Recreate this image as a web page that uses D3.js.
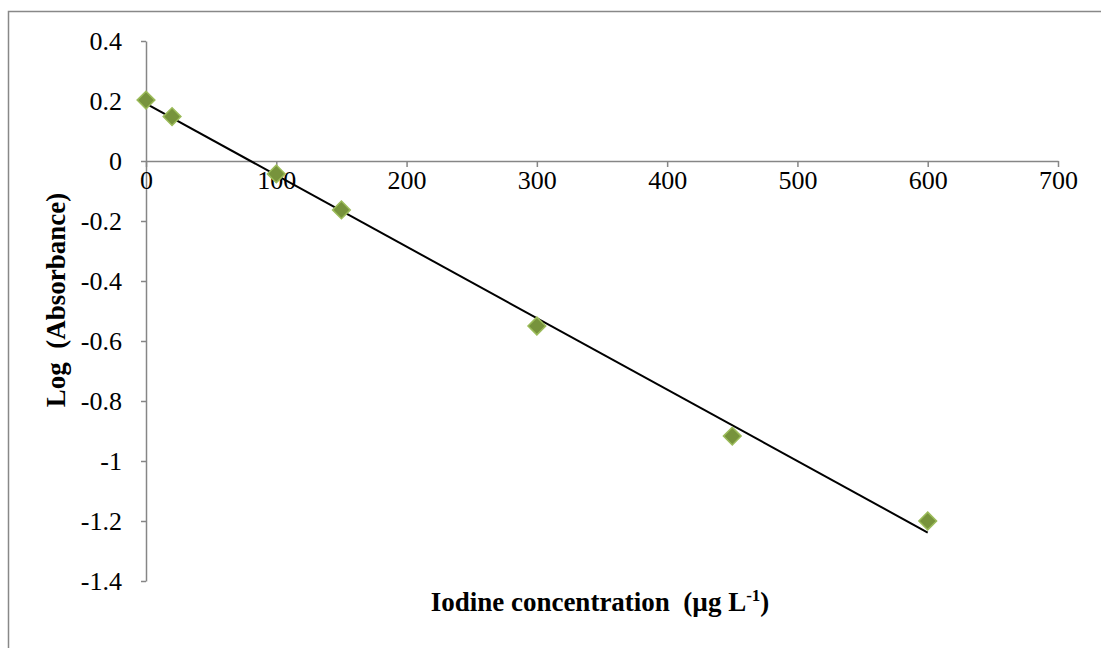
<!DOCTYPE html>
<html><head><meta charset="utf-8">
<script src="https://cdn.jsdelivr.net/npm/d3@7"></script>
<style>body{margin:0;background:#fff}svg{display:block}
svg text{font-family:"Liberation Serif","Times New Roman",serif;fill:#000}
.tick text{font-size:26px}
.title{font-size:27px;font-weight:bold}
</style>
</head><body>
<script>
const concentrations = [0, 20, 100, 150, 300, 450, 600];
const logAbsorbance = [0.203, 0.148, -0.043, -0.163, -0.55, -0.917, -1.2];
const xTicks = [0, 100, 200, 300, 400, 500, 600, 700];
const yTicks = [0.4, 0.2, 0, -0.2, -0.4, -0.6, -0.8, -1, -1.2, -1.4];

const W = 1101, H = 648;
const svg = d3.select("body").append("svg").attr("width", W).attr("height", H);

// outer frame (only top and left visible)
svg.append("rect").attr("x", 8.5).attr("y", 11.5).attr("width", 1200).attr("height", 800)
  .attr("fill", "none").attr("stroke", "#888").attr("stroke-width", 1.5);

const x = d3.scaleLinear().domain([0, 700]).range([146, 1058]);
const y = d3.scaleLinear().domain([-1.4, 0.4]).range([581, 41]);

const axisColor = "#868686";

// y axis
const yAxis = svg.append("g").attr("transform", `translate(${x(0)},0)`)
  .call(d3.axisLeft(y).tickValues(yTicks).tickSize(5).tickSizeOuter(0).tickFormat(d => String(+d.toFixed(1))));
yAxis.attr("font-family", null).attr("font-size", null);
yAxis.selectAll("path,line").attr("stroke", axisColor).attr("stroke-width", 1.5);
yAxis.selectAll("text").attr("x", -24).attr("dy", "0.33em");

// x axis at y=0
const xAxis = svg.append("g").attr("transform", `translate(0,${y(0)})`)
  .call(d3.axisBottom(x).tickValues(xTicks).tickSize(6).tickSizeOuter(0).tickFormat(d => String(d)));
xAxis.attr("font-family", null).attr("font-size", null);
xAxis.selectAll("path,line").attr("stroke", axisColor).attr("stroke-width", 1.5);
xAxis.selectAll("text").attr("y", 10).attr("dy", "0.71em");

// linear trendline (least squares, as in the source chart)
const n = concentrations.length;
const mx = d3.mean(concentrations), my = d3.mean(logAbsorbance);
let sxy = 0, sxx = 0;
for (let i = 0; i < n; i++) { sxy += (concentrations[i]-mx)*(logAbsorbance[i]-my); sxx += (concentrations[i]-mx)**2; }
const slope = sxy / sxx, intercept = my - slope * mx;
const xMin = d3.min(concentrations), xMax = d3.max(concentrations);
svg.append("line")
  .attr("x1", x(xMin)).attr("y1", y(intercept + slope * xMin))
  .attr("x2", x(xMax)).attr("y2", y(intercept + slope * xMax))
  .attr("stroke", "#000").attr("stroke-width", 2);

// markers
const sym = d3.symbol().type(d3.symbolDiamond2).size(200);
svg.append("g").selectAll("path").data(concentrations).join("path")
  .attr("transform", (d, i) => `translate(${x(d)},${y(logAbsorbance[i])})`)
  .attr("d", sym)
  .attr("fill", "#77933C").attr("stroke", "#9BBB59").attr("stroke-width", 1.5);

// axis titles
svg.append("text").attr("class", "title").attr("x", 600).attr("y", 611).attr("text-anchor", "middle")
  .html('Iodine concentration&#160;&#160;(µg L<tspan dy="-10" style="font-size:17px">-1</tspan><tspan dy="10">)</tspan>');

svg.append("text").attr("class", "title").attr("transform", "translate(65,300) rotate(-90)").attr("text-anchor", "middle")
  .text("Log\u00A0\u00A0(Absorbance)");
</script>
</body></html>
